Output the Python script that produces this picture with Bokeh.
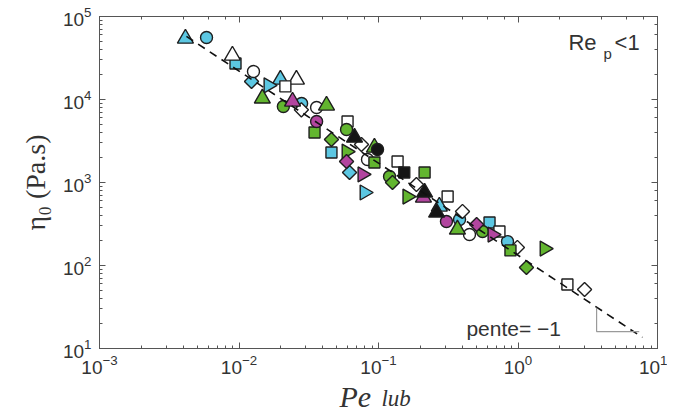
import math
from bokeh.plotting import figure
from bokeh.models import LogAxis, Label
from bokeh.layouts import column
from bokeh.embed import file_html
from bokeh.resources import INLINE

# ---------------- data ----------------
cyan_tri_x = [0.00413, 0.0198, 0.273]
cyan_tri_y = [54300, 17400, 514]
cyan_circ_x = [0.00585, 0.0281, 0.381, 0.841]
cyan_circ_y = [55800, 8950, 358, 194]
cyan_sq_x = [0.00944, 0.046, 0.625]
cyan_sq_y = [27200, 2300, 330]
cyan_dia_x = [0.0123, 0.062]
cyan_dia_y = [16500, 1320]
cyan_rt_x = [0.01626, 0.0794]
cyan_rt_y = [14800, 758]

white_tri_x = [0.00897, 0.0258]
white_tri_y = [33900, 17400]
white_circ_x = [0.0127, 0.036, 0.0834, 0.449]
white_circ_y = [21700, 8020, 1890, 236]
white_sq_x = [0.0215, 0.060, 0.137, 0.313, 0.736, 2.26]
white_sq_y = [14400, 5430, 1790, 677, 257, 59]
white_dia_x = [0.028, 0.0755, 0.187, 0.40, 0.99, 3.0]
white_dia_y = [7500, 2870, 946, 448, 165, 51.4]

green_tri_x = [0.0147, 0.0424, 0.0935, 0.368]
green_tri_y = [10300, 8470, 2640, 272]
green_circ_x = [0.0208, 0.059, 0.12, 0.557]
green_circ_y = [8240, 4350, 1180, 257]
green_sq_x = [0.0348, 0.0935, 0.214, 0.883]
green_sq_y = [4000, 1740, 1320, 152]
green_dia_x = [0.046, 0.126, 1.15]
green_dia_y = [3300, 1000, 94.6]
green_rt_x = [0.059, 0.161, 1.55]
green_rt_y = [2360, 677, 160]

mag_tri_x = [0.0242, 0.21]
mag_tri_y = [9460, 659]
mag_circ_x = [0.036, 0.307]
mag_circ_y = [5430, 339]
mag_dia_x = [0.059, 0.505]
mag_dia_y = [1790, 312]
mag_rt_x = [0.0767, 0.656]
mag_rt_y = [1250, 236]

black_tri_x = [0.0673, 0.214, 0.261]
black_tri_y = [3480, 758, 435]
black_circ_x = [0.0984]
black_circ_y = [2500]
black_sq_x = [0.153]
black_sq_y = [1320]

fit_x = [0.0042, 7.8]
fit_y = [57600, 13.6]
slope_x = [3.66, 3.66, 7.4]
slope_y = [31, 16, 16]

CYAN = "#5cc7e2"
GREEN = "#62b52f"
MAGENTA = "#b2459f"
WHITE = "#ffffff"
BLACK = "#151515"
EDGE = "#1e1e1e"
AXC = "#555555"
TXT = "#333333"

W = 667
p = figure(width=W, height=376, x_axis_type="log", y_axis_type="log",
           x_range=(1e-3, 10), y_range=(10, 1e5),
           output_backend="svg", toolbar_location=None,
           min_border_left=99, min_border_right=10,
           min_border_top=16, min_border_bottom=28)

p.add_layout(LogAxis(), "above")
p.add_layout(LogAxis(), "right")

p.xgrid.visible = False
p.ygrid.visible = False
p.outline_line_color = AXC
p.background_fill_color = "white"
p.border_fill_color = "white"

for ax in p.xaxis + p.yaxis:
    ax.axis_line_color = AXC
    ax.major_tick_line_color = AXC
    ax.minor_tick_line_color = AXC
    ax.major_tick_in = 6
    ax.major_tick_out = 0
    ax.minor_tick_in = 3
    ax.minor_tick_out = 0
    ax.major_label_text_font = "Liberation Sans"
    ax.major_label_text_font_size = "19px"
    ax.major_label_text_color = TXT

bottom = p.below[0]
left = p.left[0]
top = p.above[0]
right = p.right[0]
for ax in (top, right):
    ax.major_label_text_font_size = "1px"
    ax.major_label_text_alpha = 0.0
    ax.major_label_standoff = 0
bottom.major_label_standoff = 6
left.major_label_standoff = 8

left.axis_label = "η₀ (Pa.s)"
left.axis_label_text_font = "Liberation Serif"
left.axis_label_text_font_style = "normal"
left.axis_label_text_font_size = "28px"
left.axis_label_text_color = TXT
left.axis_label_standoff = 9

def mk(xs, ys, marker, color, size, angle=0.0):
    p.scatter(xs, ys, marker=marker, size=size, fill_color=color,
              line_color=EDGE, line_width=1.4, angle=angle)

RT = -math.pi / 2
DIA = math.pi / 4

mk(cyan_tri_x, cyan_tri_y, "triangle", CYAN, 16)
mk(cyan_circ_x, cyan_circ_y, "circle", CYAN, 12)
mk(cyan_sq_x, cyan_sq_y, "square", CYAN, 11)
mk(cyan_dia_x, cyan_dia_y, "square", CYAN, 10, DIA)
mk(cyan_rt_x, cyan_rt_y, "triangle", CYAN, 15, RT)

mk(white_tri_x, white_tri_y, "triangle", WHITE, 16)
mk(white_circ_x, white_circ_y, "circle", WHITE, 12)
mk(white_sq_x, white_sq_y, "square", WHITE, 11)
mk(white_dia_x, white_dia_y, "square", WHITE, 10, DIA)

mk(green_tri_x, green_tri_y, "triangle", GREEN, 16)
mk(green_circ_x, green_circ_y, "circle", GREEN, 12)
mk(green_sq_x, green_sq_y, "square", GREEN, 11)
mk(green_dia_x, green_dia_y, "square", GREEN, 10, DIA)
mk(green_rt_x, green_rt_y, "triangle", GREEN, 15, RT)

mk(mag_tri_x, mag_tri_y, "triangle", MAGENTA, 16)
mk(mag_circ_x, mag_circ_y, "circle", MAGENTA, 12)
mk(mag_dia_x, mag_dia_y, "square", MAGENTA, 10, DIA)
mk(mag_rt_x, mag_rt_y, "triangle", MAGENTA, 15, RT)

mk(black_tri_x, black_tri_y, "triangle", BLACK, 16)
mk(black_circ_x, black_circ_y, "circle", BLACK, 12)
mk(black_sq_x, black_sq_y, "square", BLACK, 11)

p.line(fit_x, fit_y, line_color="#111111", line_width=1.6, line_dash="8 6")
p.line(slope_x, slope_y, line_color="#9a9a9a", line_width=1.2)

p.add_layout(Label(x=0.427, y=17.4, text="pente= −1", text_font="Liberation Sans",
                   text_font_size="21px", text_color=TXT, text_baseline="alphabetic"))
p.add_layout(Label(x=2.3, y=48600, text="Re", text_font="Liberation Sans",
                   text_font_size="22px", text_color=TXT, text_baseline="alphabetic"))
p.add_layout(Label(x=4.1, y=35800, text="p", text_font="Liberation Sans",
                   text_font_size="15px", text_color=TXT, text_baseline="alphabetic"))
p.add_layout(Label(x=4.92, y=48600, text="<1", text_font="Liberation Sans",
                   text_font_size="22px", text_color=TXT, text_baseline="alphabetic"))

# strip below the plot holding the x-axis title Pe_lub (frame aligned with p)
H2 = 40
p2 = figure(width=W, height=H2, x_axis_type="log", x_range=(1e-3, 10), y_range=(0, 1),
            output_backend="svg", toolbar_location=None, title=None,
            x_axis_location=None, y_axis_location=None,
            min_border=0, min_border_left=99, min_border_right=10,
            min_border_top=0, min_border_bottom=0)
p2.grid.visible = False
p2.outline_line_color = None
p2.background_fill_color = "white"
p2.border_fill_color = "white"
# anchored at the top edge of the strip, offsets in screen pixels
p2.add_layout(Label(x=0.0525, y=1, y_offset=-20, text="Pe", text_font="Liberation Serif",
                    text_font_style="italic", text_font_size="30px", text_color=TXT,
                    text_baseline="alphabetic"))
p2.add_layout(Label(x=0.105, y=1, y_offset=-22, text="lub", text_font="Liberation Serif",
                    text_font_style="italic", text_font_size="23px", text_color=TXT,
                    text_baseline="alphabetic"))

layout = column(p, p2, spacing=0)
open("out.html", "w").write(file_html(layout, INLINE))
